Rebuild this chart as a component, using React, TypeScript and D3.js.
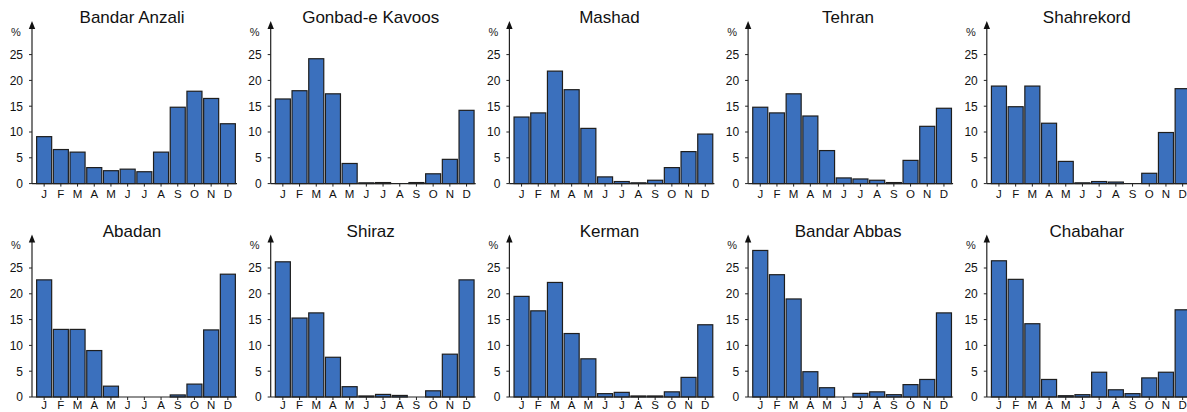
import React, { useEffect, useRef } from 'react'
import * as d3 from 'd3'

// monthly share of annual rainfall (%)
const months = ['J', 'F', 'M', 'A', 'M', 'J', 'J', 'A', 'S', 'O', 'N', 'D']
const yTicks = [0, 5, 10, 15, 20, 25]

const stations = [
  'Bandar Anzali', 'Gonbad-e Kavoos', 'Mashad', 'Tehran', 'Shahrekord',
  'Abadan', 'Shiraz', 'Kerman', 'Bandar Abbas', 'Chabahar',
]

const bandarAnzali = [9.1, 6.6, 6.1, 3.1, 2.5, 2.8, 2.3, 6.1, 14.8, 17.9, 16.5, 11.6]
const gonbad = [16.4, 18.0, 24.2, 17.4, 3.9, 0.15, 0.2, 0, 0.2, 1.9, 4.7, 14.2]
const mashad = [12.9, 13.7, 21.8, 18.2, 10.7, 1.3, 0.4, 0.15, 0.65, 3.1, 6.2, 9.6]
const tehran = [14.8, 13.7, 17.4, 13.1, 6.4, 1.1, 0.9, 0.65, 0.2, 4.5, 11.1, 14.6]
const shahrekord = [18.9, 14.9, 18.9, 11.7, 4.3, 0.15, 0.4, 0.3, 0, 2.0, 9.9, 18.4]
const abadan = [22.7, 13.1, 13.1, 9.0, 2.1, 0, 0, 0, 0.4, 2.5, 13.0, 23.8]
const shiraz = [26.2, 15.3, 16.3, 7.7, 2.0, 0.2, 0.5, 0.3, 0, 1.2, 8.3, 22.7]
const kerman = [19.5, 16.7, 22.2, 12.3, 7.4, 0.65, 0.9, 0.2, 0.2, 1.0, 3.8, 14.0]
const bandarAbbas = [28.4, 23.7, 19.0, 4.9, 1.8, 0, 0.7, 1.0, 0.45, 2.4, 3.4, 16.3]
const chabahar = [26.4, 22.8, 14.2, 3.4, 0.25, 0.45, 4.8, 1.4, 0.65, 3.7, 4.8, 16.9]

const series = [bandarAnzali, gonbad, mashad, tehran, shahrekord, abadan, shiraz, kerman, bandarAbbas, chabahar]

const W = 1187
const H = 412

const App = () => {
  const ref = useRef<SVGSVGElement>(null)

  useEffect(() => {
    const svg = d3.select(ref.current)
    svg.selectAll('*').remove()

    const font = 'Liberation Sans, Arial, sans-serif'
    const axisX0 = 32, panelStep = 238.7
    const base0 = 183.6, rowStep = 213.4
    const plotH = 129 // px for 25 %

    stations.forEach((name, i) => {
      const col = i % 5
      const row = Math.floor(i / 5)
      const ax = axisX0 + col * panelStep
      const base = base0 + row * rowStep
      const data = series[i]

      const x = d3.scaleBand<number>()
        .domain(d3.range(12))
        .range([ax + 3.8, ax + 204.2])
        .paddingInner(0.1)
        .paddingOuter(0.05)
      const y = d3.scaleLinear().domain([0, 25]).range([base, base - plotH])

      const g = svg.append('g')

      // title
      g.append('text')
        .attr('x', ax + 100)
        .attr('y', base - 160.2)
        .attr('text-anchor', 'middle')
        .style('font-family', font)
        .style('font-size', '17px')
        .style('fill', '#111')
        .text(name)

      // bars
      g.selectAll('.bar')
        .data(data)
        .enter().append('rect')
        .attr('class', 'bar')
        .attr('x', (d, j) => x(j)!)
        .attr('width', x.bandwidth())
        .attr('y', d => y(d))
        .attr('height', d => base - y(d))
        .style('fill', '#3b70bd')
        .style('stroke', '#1e1e1e')
        .style('stroke-width', 1.2)

      // y axis with arrow
      const tip = base - 162.6
      g.append('line')
        .attr('x1', ax).attr('x2', ax)
        .attr('y1', base).attr('y2', tip + 6)
        .style('stroke', '#222').style('stroke-width', 1.2)
      g.append('path')
        .attr('d', `M${ax - 3.2},${tip + 8} L${ax},${tip} L${ax + 3.2},${tip + 8} Z`)
        .style('fill', '#111')
      g.append('text')
        .attr('x', ax - 16)
        .attr('y', tip + 14.5)
        .attr('text-anchor', 'middle')
        .style('font-family', font)
        .style('font-size', '11px')
        .style('fill', '#222')
        .text('%')

      g.selectAll('.ytick')
        .data(yTicks)
        .enter().append('line')
        .attr('x1', ax - 3).attr('x2', ax)
        .attr('y1', d => y(d)).attr('y2', d => y(d))
        .style('stroke', '#222').style('stroke-width', 1)
      g.selectAll('.ylab')
        .data(yTicks)
        .enter().append('text')
        .attr('x', ax - 9)
        .attr('y', d => y(d) + 4.3)
        .attr('text-anchor', 'end')
        .style('font-family', font)
        .style('font-size', '12px')
        .style('fill', '#111')
        .text(d => d)

      // x axis
      g.append('line')
        .attr('x1', ax).attr('x2', ax + 205)
        .attr('y1', base).attr('y2', base)
        .style('stroke', '#222').style('stroke-width', 1.2)
      g.selectAll('.xtick')
        .data(months)
        .enter().append('line')
        .attr('x1', (d, j) => x(j)! + x.bandwidth() / 2)
        .attr('x2', (d, j) => x(j)! + x.bandwidth() / 2)
        .attr('y1', base).attr('y2', base + 3)
        .style('stroke', '#222').style('stroke-width', 1)
      // bottom row sits at the page edge, keep its labels inside
      const labelY = Math.min(base + 14, H - 3.2)
      g.selectAll('.xlab')
        .data(months)
        .enter().append('text')
        .attr('x', (d, j) => x(j)! + x.bandwidth() / 2)
        .attr('y', labelY)
        .attr('text-anchor', 'middle')
        .style('font-family', font)
        .style('font-size', '11.5px')
        .style('fill', '#111')
        .text(d => d)
    })
  }, [])

  return (
    <svg
      ref={ref}
      width={W}
      height={H}
      style={{ position: 'absolute', left: 0, top: 0, background: '#fff' }}
    />
  )
}

export default App
